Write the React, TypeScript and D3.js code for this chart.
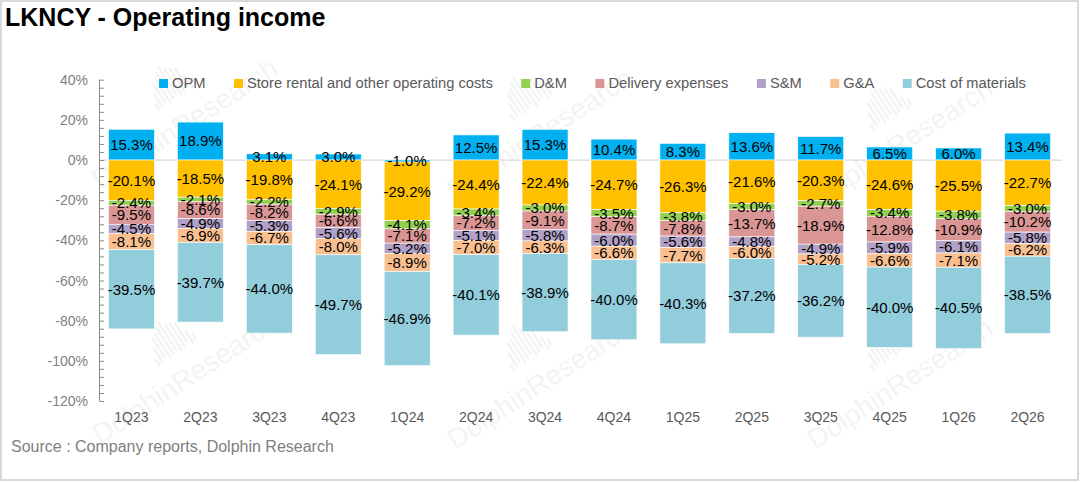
import React, { useEffect, useRef } from 'react';
import * as d3 from 'd3';

document.body.style.margin = '0';

const categories = ['1Q23', '2Q23', '3Q23', '4Q23', '1Q24', '2Q24', '3Q24', '4Q24', '1Q25', '2Q25', '3Q25', '4Q25', '1Q26', '2Q26'];
const opm = [15.3, 18.9, 3.1, 3.0, -1.0, 12.5, 15.3, 10.4, 8.3, 13.6, 11.7, 6.5, 6.0, 13.4];
const storeRental = [-20.1, -18.5, -19.8, -24.1, -29.2, -24.4, -22.4, -24.7, -26.3, -21.6, -20.3, -24.6, -25.5, -22.7];
const dm = [-2.4, -2.1, -2.2, -2.9, -4.1, -3.4, -3.0, -3.5, -3.8, -3.0, -2.7, -3.4, -3.8, -3.0];
const delivery = [-9.5, -8.6, -8.2, -6.6, -7.1, -7.2, -9.1, -8.7, -7.8, -13.7, -18.9, -12.8, -10.9, -10.2];
const sm = [-4.5, -4.9, -5.3, -5.6, -5.2, -5.1, -5.8, -6.0, -5.6, -4.8, -4.9, -5.9, -6.1, -5.8];
const ga = [-8.1, -6.9, -6.7, -8.0, -8.9, -7.0, -6.3, -6.6, -7.7, -6.0, -5.2, -6.6, -7.1, -6.2];
const materials = [-39.5, -39.7, -44.0, -49.7, -46.9, -40.1, -38.9, -40.0, -40.3, -37.2, -36.2, -40.0, -40.5, -38.5];

const seriesNames = ['OPM', 'Store rental and other operating costs', 'D&M', 'Delivery expenses', 'S&M', 'G&A', 'Cost of materials'];
const seriesValues = [opm, storeRental, dm, delivery, sm, ga, materials];
const seriesColors = ['#00B0F0', '#FFC000', '#92D050', '#DA9694', '#B1A0C7', '#FABF8F', '#92CDDC'];

const yTicks = [40, 20, 0, -20, -40, -60, -80, -100, -120];

const W = 1080;
const H = 482;
const FONT = '"Liberation Sans", Arial, sans-serif';

export default function App() {
  const svgRef = useRef<SVGSVGElement>(null);

  useEffect(() => {
    if (!svgRef.current) return;
    const svg = d3.select(svgRef.current);
    svg.selectAll('*').remove();

    // frame
    svg.append('rect')
      .attr('x', 1).attr('y', 1)
      .attr('width', W - 3).attr('height', H - 3)
      .attr('fill', '#fff')
      .attr('stroke', '#d9d9d9')
      .attr('stroke-width', 2);

    // watermarks
    const marks = [[100, 190], [455, 200], [815, 210], [100, 445], [455, 450], [815, 450]];
    marks.forEach(([mx, my]) => {
      const g = svg.append('g')
        .attr('transform', `translate(${mx},${my}) rotate(-33)`)
        .attr('opacity', 0.045);
      g.append('text')
        .attr('font-family', FONT)
        .attr('font-size', 28)
        .attr('fill', '#000')
        .text('DolphinResearch');
      d3.range(11).forEach(i => {
        const h = 8 + Math.sin((i / 10) * Math.PI) * 26;
        g.append('rect')
          .attr('x', 92 + i * 4.5)
          .attr('y', -34 - h - (i % 3) * 2)
          .attr('width', 2.4)
          .attr('height', h)
          .attr('fill', '#000');
      });
    });

    const x = d3.scaleBand<string>()
      .domain(categories)
      .range([97, 1062])
      .paddingInner(0.333)
      .paddingOuter(0.1665);

    const y = d3.scaleLinear().domain([-120, 40]).range([401, 79.7]);

    const rows = categories.map((c, i) => {
      const row: Record<string, any> = { cat: c };
      seriesNames.forEach((n, k) => { row[n] = seriesValues[k][i]; });
      return row;
    });

    const stacked = d3.stack<any>()
      .keys(seriesNames)
      .offset(d3.stackOffsetDiverging)(rows);

    // zero line
    svg.append('line')
      .attr('x1', 99).attr('x2', 1062)
      .attr('y1', y(0)).attr('y2', y(0))
      .attr('stroke', '#d9d9d9')
      .attr('stroke-width', 1.2);

    // bars
    stacked.forEach((layer, k) => {
      svg.append('g')
        .selectAll('rect')
        .data(layer)
        .join('rect')
        .attr('x', d => x(d.data.cat)!)
        .attr('width', x.bandwidth())
        .attr('y', d => y(Math.max(d[0], d[1])))
        .attr('height', d => Math.abs(y(d[0]) - y(d[1])))
        .attr('fill', seriesColors[k])
        .attr('stroke', '#fff')
        .attr('stroke-width', 0.6);
    });

    // labels
    stacked.forEach((layer) => {
      svg.append('g')
        .selectAll('text')
        .data(layer)
        .join('text')
        .attr('x', d => x(d.data.cat)! + x.bandwidth() / 2)
        .attr('y', d => y((d[0] + d[1]) / 2))
        .attr('dy', '0.36em')
        .attr('text-anchor', 'middle')
        .attr('font-family', FONT)
        .attr('font-size', 15)
        .attr('fill', '#000')
        .text(d => `${(d.data[layer.key] as number).toFixed(1)}%`);
    });

    // y axis
    const axis = svg.append('g');
    axis.append('line')
      .attr('x1', 99.5).attr('x2', 99.5)
      .attr('y1', y(40)).attr('y2', y(-120))
      .attr('stroke', '#8c8c8c');
    d3.range(-120, 41, 4).forEach(v => {
      axis.append('line')
        .attr('x1', 99.5).attr('x2', 104)
        .attr('y1', y(v) + 0.5).attr('y2', y(v) + 0.5)
        .attr('stroke', '#8c8c8c');
    });
    axis.selectAll('text')
      .data(yTicks)
      .join('text')
      .attr('x', 88)
      .attr('y', d => y(d))
      .attr('dy', '0.36em')
      .attr('text-anchor', 'end')
      .attr('font-family', FONT)
      .attr('font-size', 14)
      .attr('fill', '#7f7f7f')
      .text(d => `${d}%`);

    // x labels
    svg.append('g')
      .selectAll('text')
      .data(categories)
      .join('text')
      .attr('x', d => x(d)! + x.bandwidth() / 2)
      .attr('y', 422)
      .attr('text-anchor', 'middle')
      .attr('font-family', FONT)
      .attr('font-size', 14)
      .attr('fill', '#595959')
      .text(d => d);

    // legend
    const legend = svg.append('g');
    let lx = 159;
    seriesNames.forEach((n, k) => {
      legend.append('rect')
        .attr('x', lx).attr('y', 79)
        .attr('width', 9).attr('height', 9)
        .attr('fill', seriesColors[k]);
      const t = legend.append('text')
        .attr('x', lx + 13)
        .attr('y', 88)
        .attr('font-family', FONT)
        .attr('font-size', 14.7)
        .attr('fill', '#595959')
        .text(n);
      const w = (t.node() as SVGTextElement).getComputedTextLength();
      lx += 13 + w + 28.5;
    });

    // title
    svg.append('text')
      .attr('x', 5).attr('y', 26)
      .attr('font-family', FONT)
      .attr('font-size', 25)
      .attr('font-weight', 'bold')
      .attr('fill', '#000')
      .text('LKNCY - Operating income');

    // source
    svg.append('text')
      .attr('x', 11).attr('y', 452)
      .attr('font-family', FONT)
      .attr('font-size', 16)
      .attr('fill', '#7f7f7f')
      .text('Source : Company reports, Dolphin Research');
  }, []);

  return <svg ref={svgRef} width={W} height={H} style={{ display: 'block' }} />;
}
